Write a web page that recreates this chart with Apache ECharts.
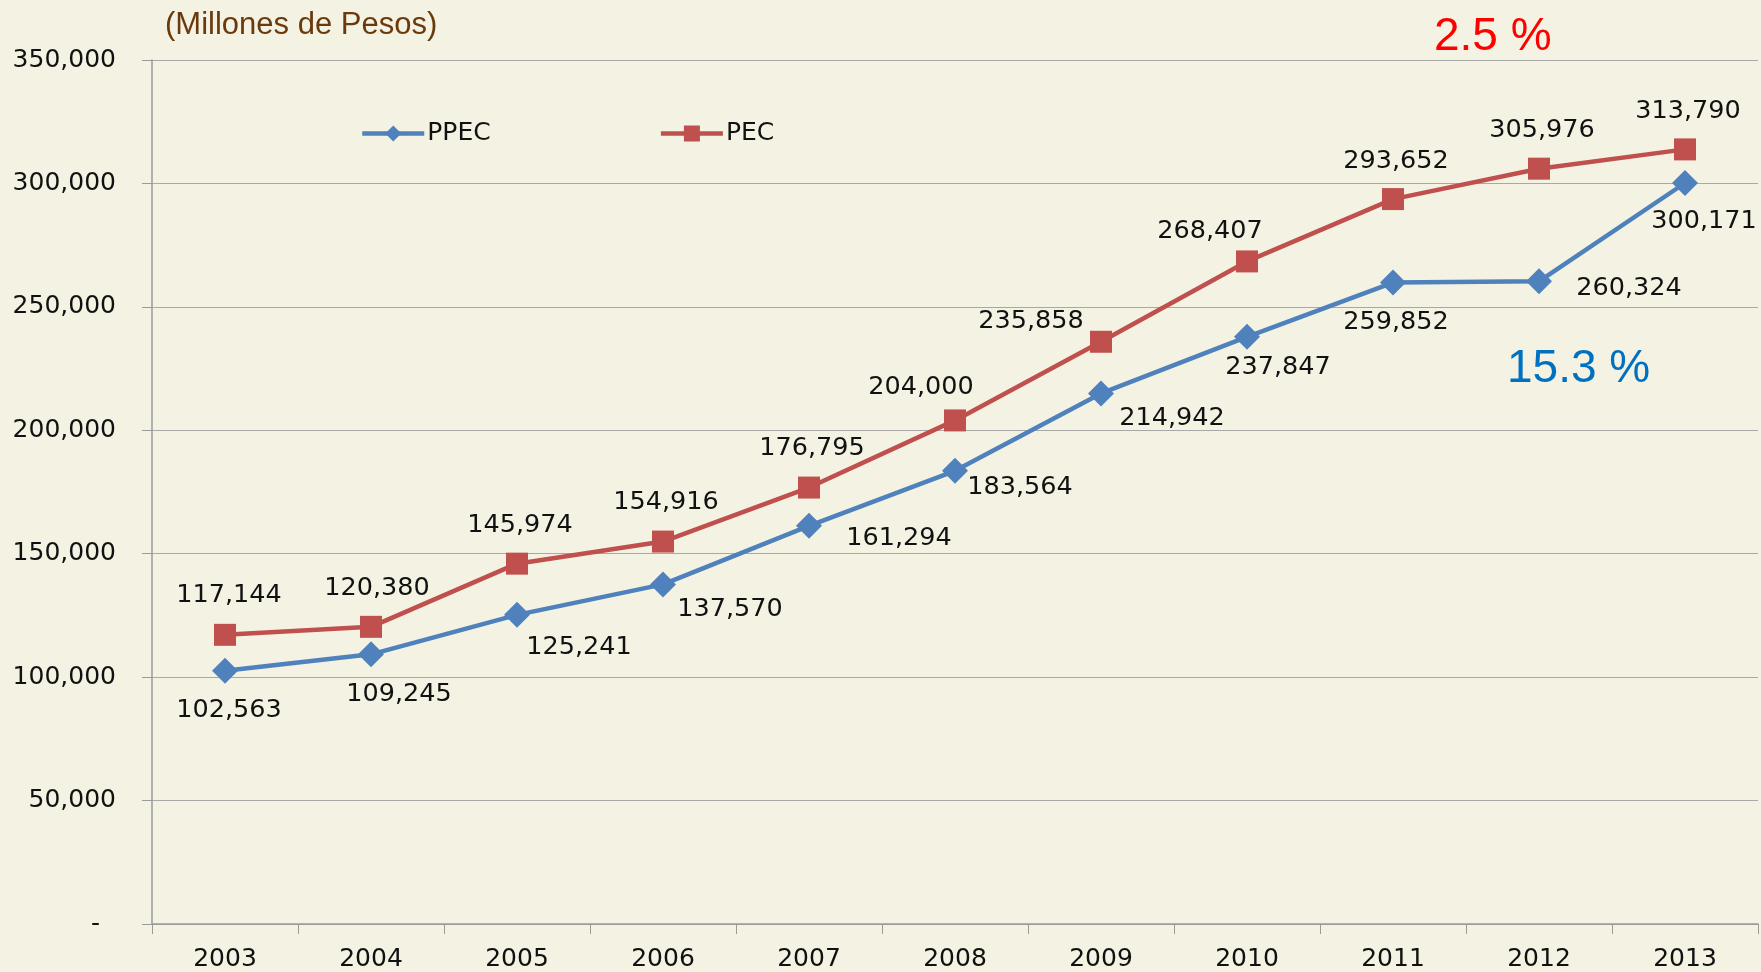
<!DOCTYPE html>
<html>
<head>
<meta charset="utf-8">
<script src="https://cdn.jsdelivr.net/npm/echarts@6/dist/echarts.min.js"></script>
<style>
  html, body { margin: 0; padding: 0; background: #F4F3E3; }
  #main { width: 1761px; height: 972px; }
</style>
</head>
<body>
<div id="main"></div>
<script>
// 年份
var years = ['2003', '2004', '2005', '2006', '2007', '2008', '2009', '2010', '2011', '2012', '2013'];

// PPEC / PEC 数据
var ppec = [102563, 109245, 125241, 137570, 161294, 183564, 214942, 237847, 259852, 260324, 300171];
var pec = [117144, 120380, 145974, 154916, 176795, 204000, 235858, 268407, 293652, 305976, 313790];

// 标签偏移 (像素)
var ppecOffset = [[4, 40], [28, 40], [62, 33], [67, 25], [90, 13], [65, 17], [71, 25], [31, 31], [3, 40], [90, 7], [19, 38]];
var pecOffset = [[4, -39], [6, -38], [3, -38], [3, -39], [3, -39], [-34, -33], [-70, -20], [-37, -30], [3, -38], [3, -38], [3, -38]];

function fmt(v) {
  return v.toLocaleString('en-US');
}

function withLabels(values, offsets) {
  var arr = [];
  for (var i = 0; i < values.length; i++) {
    arr.push({
      value: values[i],
      label: { offset: offsets[i] }
    });
  }
  return arr;
}

var chart = echarts.init(document.getElementById('main'));

var labelStyle = {
  show: true,
  position: 'inside',
  align: 'center',
  verticalAlign: 'middle',
  color: '#111',
  fontFamily: 'DejaVu Sans',
  fontSize: 25.5,
  formatter: function(p) { return fmt(p.value); }
};

var option = {
  backgroundColor: '#F4F3E3',
  animation: false,
  grid: { left: 152, right: 3, top: 60, bottom: 48 },
  legend: {
    left: 355,
    top: 116,
    itemGap: 168,
    itemWidth: 62,
    itemHeight: 20,
    lineStyle: { width: 4.5 },
    textStyle: { fontFamily: 'DejaVu Sans', fontSize: 25, color: '#111', padding: [0, 0, 0, -2] },
    data: ['PPEC', 'PEC']
  },
  graphic: [
    {
      type: 'text', left: 165, top: 10,
      style: { text: '(Millones de Pesos)', fill: '#6B3A0C', font: '31px "Liberation Sans"' }
    },
    {
      type: 'text', left: 1434, top: 14,
      style: { text: '2.5 %', fill: '#FF0000', font: '46px "Liberation Sans"' }
    },
    {
      type: 'text', left: 1507, top: 346,
      style: { text: '15.3 %', fill: '#0070C0', font: '46px "Liberation Sans"' }
    }
  ],
  xAxis: {
    type: 'category',
    data: years,
    boundaryGap: true,
    axisLine: { lineStyle: { color: '#9a9a9a', width: 1.5 } },
    axisTick: { show: true, length: 10, interval: 0, lineStyle: { color: '#9a9a9a' } },
    axisLabel: { color: '#111', fontFamily: 'DejaVu Sans', fontSize: 25, margin: 23 }
  },
  yAxis: {
    type: 'value',
    min: 0,
    max: 350000,
    interval: 50000,
    axisLine: { show: true, lineStyle: { color: '#9a9a9a', width: 1.5 } },
    axisTick: { show: true, length: 10, lineStyle: { color: '#9a9a9a' } },
    splitLine: { lineStyle: { color: '#a8a8a8', width: 1.2 } },
    axisLabel: {
      color: '#111', fontFamily: 'DejaVu Sans', fontSize: 25, margin: 36,
      formatter: function(v) { return v === 0 ? '-  ' : fmt(v); }
    }
  },
  series: [
    {
      name: 'PPEC',
      type: 'line',
      data: withLabels(ppec, ppecOffset),
      symbol: 'diamond',
      symbolSize: 26,
      lineStyle: { color: '#4F81BD', width: 4.5 },
      itemStyle: { color: '#4F81BD' },
      label: labelStyle,
      z: 3
    },
    {
      name: 'PEC',
      type: 'line',
      data: withLabels(pec, pecOffset),
      symbol: 'rect',
      symbolSize: 22,
      lineStyle: { color: '#C0504D', width: 4.5 },
      itemStyle: { color: '#C0504D' },
      label: labelStyle,
      z: 2
    }
  ]
};

chart.setOption(option);
</script>
</body>
</html>
